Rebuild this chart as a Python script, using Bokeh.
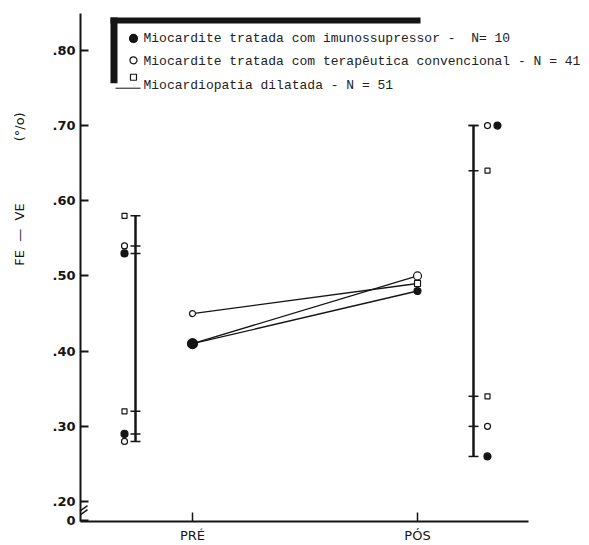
from math import pi
from bokeh.plotting import figure
from bokeh.models import FixedTicker, Label, Range1d
from bokeh.embed import file_html
from bokeh.resources import INLINE

NB = "\u00a0"

# ---------------- data ----------------
periods = ["PRÉ", "PÓS"]
period_x = [1, 2]
groups = ["Miocardite tratada com imunossupressor -" + NB * 2 + "N= 10",
          "Miocardite tratada com terapêutica convencional - N = 41",
          "Miocardiopatia dilatada - N = 51"]
mean_pre = [0.41, 0.41, 0.45]
mean_post = [0.48, 0.50, 0.49]
max_pre = [0.53, 0.54, 0.58]
min_pre = [0.29, 0.28, 0.32]
max_post = [0.70, 0.70, 0.64]
min_post = [0.26, 0.30, 0.34]
y_ticks = [0.175, 0.20, 0.30, 0.40, 0.50, 0.60, 0.70, 0.80]
y_tick_labels = ["0", ".20", ".30", ".40", ".50", ".60", ".70", ".80"]
y_title = "FE" + NB * 2 + "—" + NB * 2 + "VE" + NB * 15 + "(°/o)"

# ---------------- styles ----------------
INK = "#151515"
marker = ["circle", "circle", "square"]
pre_marker = ["circle", "circle", "circle"]
fill = [INK, "white", "white"]
msize = [8, 7, 6]

PXX = 225.0   # pixels per x unit
PXY = 755.0   # pixels per y unit
def X(px):
    return 1 + (px - 192) / PXX
def Y(py):
    return 0.80 - (py - 50) / PXY

p = figure(width=589, height=545, output_backend="svg", toolbar_location=None,
           x_range=Range1d(X(80), X(589)), y_range=Range1d(Y(523), Y(13)),
           min_border_left=80, min_border_right=0, min_border_top=13,
           min_border_bottom=22)
p.outline_line_color = None
p.grid.grid_line_color = None
p.background_fill_color = "white"

# axes
p.yaxis.ticker = FixedTicker(ticks=y_ticks)
p.yaxis.major_label_overrides = dict(zip(y_ticks, y_tick_labels))
p.yaxis.axis_line_width = 2
p.yaxis.axis_line_color = INK
p.yaxis.major_tick_in = 8
p.yaxis.major_tick_out = 0
p.yaxis.major_tick_line_width = 2
p.yaxis.major_tick_line_color = INK
p.yaxis.minor_tick_line_color = None
p.yaxis.major_label_standoff = 5
p.yaxis.major_label_text_font = "DejaVu Sans"
p.yaxis.major_label_text_font_style = "bold"
p.yaxis.major_label_text_font_size = "13px"
p.yaxis.major_label_text_color = INK
# y title: leading no-break spaces shift the visible words up along the axis
p.yaxis.axis_label = NB * 38 + y_title
p.yaxis.axis_label_standoff = 22
p.yaxis.axis_label_text_font = "DejaVu Sans"
p.yaxis.axis_label_text_font_size = "13px"
p.yaxis.axis_label_text_font_style = "normal"
p.yaxis.axis_label_text_color = INK

p.xaxis.ticker = FixedTicker(ticks=period_x)
p.xaxis.major_label_overrides = dict(zip(period_x, periods))
p.xaxis.bounds = (X(80), X(528))
p.xaxis.axis_line_width = 2
p.xaxis.axis_line_color = INK
p.xaxis.major_tick_in = 9
p.xaxis.major_tick_out = 0
p.xaxis.major_tick_line_width = 1.5
p.xaxis.major_tick_line_color = INK
p.xaxis.minor_tick_line_color = None
p.xaxis.major_label_standoff = 6
p.xaxis.major_label_text_font = "DejaVu Sans"
p.xaxis.major_label_text_font_size = "13px"
p.xaxis.major_label_text_color = INK

# range bars with individual values
bar_x = [1 - 57 / PXX, 2 + 56 / PXX]
for k, (bx, mx, mn) in enumerate(zip(bar_x, [max_pre, max_post], [min_pre, min_post])):
    vals = mx + mn
    p.segment(x0=bx, y0=min(vals), x1=bx, y1=max(vals), line_width=2.5, line_color=INK)
    p.segment(x0=[bx - 5 / PXX] * len(vals), y0=vals,
              x1=[bx + 5 / PXX] * len(vals), y1=vals, line_width=1.5, line_color=INK)
    seen = []
    for i in [2, 1, 0]:
        for v in (mx[i], mn[i]):
            if k == 0:
                xm = bx - 11 / PXX
            else:
                xm = bx + 14 / PXX + (10 / PXX if v in seen else 0)
            seen.append(v)
            p.scatter(x=[xm], y=[v], marker=marker[i], size=msize[i] - 1,
                      fill_color=fill[i], line_color=INK, line_width=1.2)

# mean lines
for i in range(3):
    p.line(x=period_x, y=[mean_pre[i], mean_post[i]], line_width=1.3, line_color=INK)
for i in [2, 1, 0]:
    p.scatter(x=[period_x[0]], y=[mean_pre[i]], marker=pre_marker[i],
              size=msize[i] + (2 if i == 0 else 0), fill_color=fill[i],
              line_color=INK, line_width=1.2)
    p.scatter(x=[period_x[1]], y=[mean_post[i]], marker=marker[i],
              size=msize[i] + (1 if i == 1 else 0) - (1 if i == 0 else 0),
              fill_color=fill[i], line_color=INK, line_width=1.2)

# legend box
p.quad(left=X(110), right=X(117), top=Y(17), bottom=Y(83), fill_color=INK, line_color=None)
p.quad(left=X(110), right=X(420), top=Y(17), bottom=Y(23), fill_color=INK, line_color=None)
p.segment(x0=X(115), y0=Y(88), x1=X(140), y1=Y(88), line_width=1, line_color=INK)
leg_y = [38, 61, 85]
leg_my = [38, 60, 77]
for i in range(3):
    p.scatter(x=[X(133)], y=[Y(leg_my[i])], marker=marker[i], size=msize[i],
              fill_color=fill[i], line_color=INK, line_width=1.2)
    p.add_layout(Label(x=X(143), y=Y(leg_y[i]), text=groups[i],
                       text_font="Liberation Mono", text_font_size="13px",
                       text_color="#222", text_baseline="middle", text_align="left"))

# axis break mark
p.segment(x0=[X(79), X(79)], y0=[Y(513), Y(517)], x1=[X(87), X(87)], y1=[Y(507), Y(511)],
          line_width=1.5, line_color=INK)

open("out.html", "w").write(file_html(p, INLINE))
